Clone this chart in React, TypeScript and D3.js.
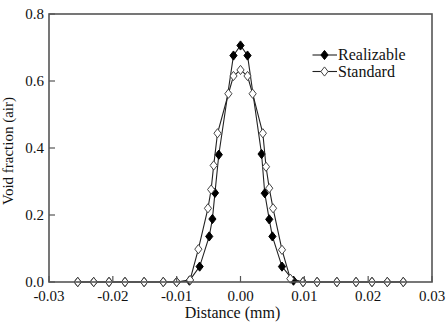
import React from "react";
import * as d3 from "d3";

// Realizable (filled diamonds)
const realX = [
  -0.0255, -0.023, -0.0206, -0.0181, -0.0151, -0.0121, -0.01, -0.008, -0.0064, -0.0049, -0.0044, -0.004,
  -0.0034, -0.0011, 0, 0.0011, 0.0033, 0.0038, 0.0045, 0.005, 0.0065, 0.0083, 0.0098, 0.012, 0.0151,
  0.0181, 0.0206, 0.023, 0.0255,
];
const realY = [
  0, 0, 0, 0, 0, 0, 0, 0.004, 0.046, 0.136, 0.188, 0.266, 0.38, 0.676, 0.706, 0.676, 0.382, 0.265, 0.187,
  0.136, 0.046, 0.004, 0, 0, 0, 0, 0, 0, 0,
];

// Standard (open diamonds)
const stdX = [
  -0.0255, -0.023, -0.0206, -0.0181, -0.0151, -0.0121, -0.01, -0.0079, -0.0066, -0.0051, -0.0046, -0.0042,
  -0.0036, -0.0019, -0.0011, 0, 0.0011, 0.0019, 0.0035, 0.004, 0.0045, 0.0051, 0.0065, 0.0078, 0.0098,
  0.012, 0.0151, 0.0181, 0.0206, 0.023, 0.0255,
];
const stdY = [
  0, 0, 0, 0, 0, 0, 0, 0.006, 0.098, 0.22, 0.276, 0.348, 0.444, 0.562, 0.615, 0.633, 0.615, 0.562, 0.444,
  0.344, 0.28, 0.22, 0.096, 0.01, 0, 0, 0, 0, 0, 0, 0,
];

const xTicks = [-0.03, -0.02, -0.01, 0, 0.01, 0.02, 0.03];
const yTicks = [0, 0.2, 0.4, 0.6, 0.8];

const legendItems = [
  { label: "Realizable", fill: "#000", stroke: "#000" },
  { label: "Standard", fill: "#fff", stroke: "#444" },
];

const FONT = "Liberation Serif";

const diamond = (w: number, h: number) => `M0,${-h}L${w},0L0,${h}L${-w},0Z`;

const margin = { top: 14, right: 16, bottom: 40, left: 49 };
const W = 448;
const H = 322;
const width = W - margin.left - margin.right;
const height = H - margin.top - margin.bottom;

const x = d3.scaleLinear().domain([-0.03, 0.03]).range([0, width]);
const y = d3.scaleLinear().domain([0, 0.8]).range([height, 0]);
const line = d3.line<[number, number]>();

// plain hyphen instead of d3's unicode minus, like the original
const fmt2 = d3.formatLocale({ decimal: ".", thousands: ",", grouping: [3], currency: ["", ""], minus: "-" });
const xFmt = (v: number) => (Math.abs(v) < 1e-9 ? "0.00" : fmt2.format(".2f")(v));
const yFmt = fmt2.format(".1f");

const Series = ({ xs, ys, fill, stroke }: { xs: number[]; ys: number[]; fill: string; stroke: string }) => {
  const pts = xs.map((v, i) => [x(v), y(ys[i])] as [number, number]);
  return (
    <g>
      <path d={line(pts) ?? ""} fill="none" stroke="#222" strokeWidth={1.1} />
      {pts.map((p, i) => (
        <path
          key={i}
          transform={`translate(${p[0]},${p[1]})`}
          d={diamond(3.6, 4.6)}
          fill={fill}
          stroke={stroke}
          strokeWidth={1}
        />
      ))}
    </g>
  );
};

const App = () => {
  return (
    <svg
      width={W}
      height={H}
      style={{ position: "absolute", left: 0, top: 0, background: "#fff", fontFamily: FONT }}
    >
      <g transform={`translate(${margin.left},${margin.top})`}>
        <Series xs={realX} ys={realY} fill="#000" stroke="#000" />
        <Series xs={stdX} ys={stdY} fill="#fff" stroke="#444" />

        {/* frame */}
        <rect width={width} height={height} fill="none" stroke="#555" strokeWidth={1.6} />

        {/* y ticks, pointing inward */}
        {yTicks.map((t) => (
          <g key={t} transform={`translate(0,${y(t)})`}>
            <line x1={0} x2={6} stroke="#555" strokeWidth={1.2} />
            <text x={-5} dy="0.35em" textAnchor="end" fontSize={15} fill="#111">
              {yFmt(t)}
            </text>
          </g>
        ))}

        {/* x ticks, pointing inward */}
        {xTicks.map((t) => (
          <g key={t} transform={`translate(${x(t)},${height})`}>
            <line y1={0} y2={-6} stroke="#555" strokeWidth={1.2} />
            <text y={19} textAnchor="middle" fontSize={15} fill="#111">
              {xFmt(t)}
            </text>
          </g>
        ))}
      </g>

      {/* axis titles */}
      <text x={232.5} y={318} textAnchor="middle" fontSize={16} fill="#111">
        Distance (mm)
      </text>
      <text transform="translate(13,151) rotate(-90)" textAnchor="middle" fontSize={15} fill="#111">
        Void fraction (air)
      </text>

      {/* legend */}
      {legendItems.map((l, i) => {
        const ly = 55 + i * 16.5;
        return (
          <g key={l.label}>
            <line x1={312.5} x2={337} y1={ly} y2={ly} stroke="#222" strokeWidth={1.1} />
            <path transform={`translate(324.5,${ly})`} d={diamond(3.6, 4.6)} fill={l.fill} stroke={l.stroke} />
            <text x={338} y={ly + 5} fontSize={16} fill="#111">
              {l.label}
            </text>
          </g>
        );
      })}
    </svg>
  );
};

export default App;
